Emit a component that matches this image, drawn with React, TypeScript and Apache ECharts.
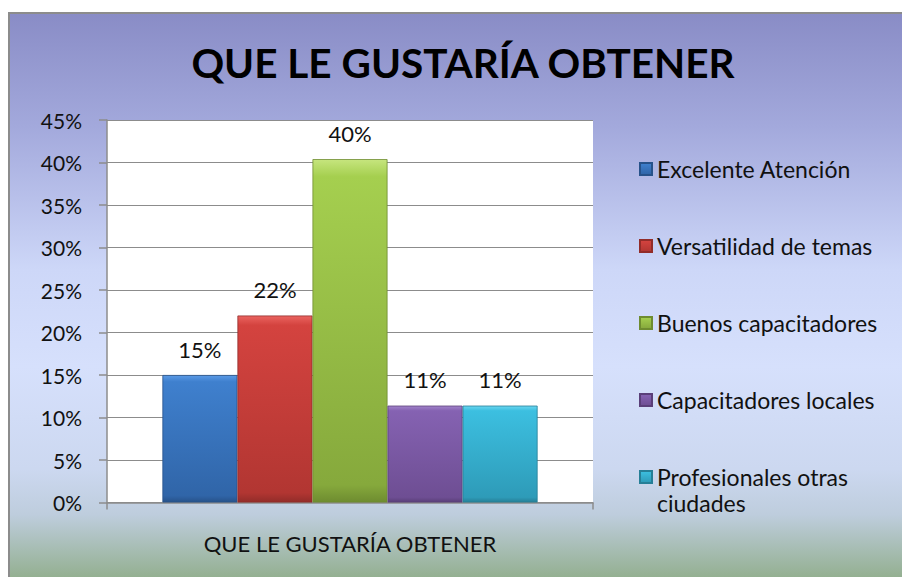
import React, { useEffect, useRef } from "react";
import * as echarts from "echarts";

const titleText = "QUE LE GUSTARÍA OBTENER";
const categories = ["QUE LE GUSTARÍA OBTENER"];
const seriesNames = [
  "Excelente Atención",
  "Versatilidad de temas",
  "Buenos capacitadores",
  "Capacitadores locales",
  "Profesionales otras ciudades",
];
const seriesValues = [0.15, 0.22, 0.404, 0.114, 0.114];
const yTicks = { min: 0, max: 0.45, interval: 0.05 };

const barColors = [
  ["#5A9AE6", "#3F80CE", "#3065A8", "#27528A"],
  ["#EA6460", "#D4433F", "#B23632", "#922C29"],
  ["#C6E57E", "#A5CF4F", "#86A93C", "#6E8C30"],
  ["#A183CA", "#8562B2", "#6E4E93", "#5A3F79"],
  ["#6AD6F0", "#3CBFE0", "#2E9BB8", "#267F97"],
];

const FONT = "Lato";

export default function App() {
  const ref = useRef<HTMLDivElement>(null);
  useEffect(() => {
    if (!ref.current) return;
    const chart = echarts.init(ref.current, undefined, { renderer: "svg" });
    const grad = (c: string[]) =>
      new echarts.graphic.LinearGradient(0, 0, 0, 1, [
        { offset: 0, color: c[0] },
        { offset: 0.05, color: c[1] },
        { offset: 0.95, color: c[2] },
        { offset: 1, color: c[3] },
      ]);
    const series = seriesNames.map((name, i) => ({
      name,
      type: "bar",
      data: [seriesValues[i]],
      barGap: "0%",
      barCategoryGap: "22.8%",
      itemStyle: { color: grad(barColors[i]), borderColor: barColors[i][3], borderWidth: 0.8 },
      label: {
        show: true,
        position: "top",
        distance: 15,
        fontFamily: FONT,
        fontSize: 22,
        color: "#111",
        formatter: (p: any) => Math.round(p.value * 100) + "%",
      },
    }));
    chart.setOption({
      animation: false,
      graphic: [
        {
          type: "rect",
          z: -10,
          silent: true,
          shape: { x: 9, y: 13, width: 900, height: 570 },
          style: {
            fill: new echarts.graphic.LinearGradient(0, 0, 0, 1, [
              { offset: 0, color: "#898CC6" },
              { offset: 0.2, color: "#A3A9DC" },
              { offset: 0.45, color: "#CDD7F8" },
              { offset: 0.62, color: "#D6E0FC" },
              { offset: 0.8, color: "#CCD8F0" },
              { offset: 0.88, color: "#BECDDD" },
              { offset: 1, color: "#90AD8A" },
            ]),
            stroke: "#8C8C8C",
            lineWidth: 2,
          },
        },
        {
          type: "text",
          x: 463,
          y: 62,
          style: {
            text: titleText,
            font: `bold 40.5px ${FONT}`,
            fill: "#000",
            align: "center",
            verticalAlign: "middle",
          },
        },
      ],
      grid: {
        left: 107,
        top: 120,
        right: 309,
        bottom: 74.5,
        show: true,
        backgroundColor: "#fff",
        borderWidth: 0,
      },
      legend: [
        {
          data: seriesNames.slice(0, 4),
          orient: "vertical",
          left: 639,
          top: 157,
          padding: 0,
          itemWidth: 12,
          itemHeight: 12,
          itemGap: 53,
          icon: "rect",
          textStyle: { fontFamily: FONT, fontSize: 23, color: "#111", lineHeight: 24 },
        },
        {
          data: seriesNames.slice(4),
          orient: "vertical",
          left: 639,
          top: 438,
          padding: 0,
          itemWidth: 12,
          itemHeight: 12,
          icon: "rect",
          formatter: () => "\u00a0\nProfesionales otras\nciudades",
          textStyle: {
            fontFamily: FONT,
            fontSize: 23,
            color: "#111",
            lineHeight: 26,
          },
        },
      ],
      xAxis: {
        type: "category",
        data: categories,
        axisLine: { lineStyle: { color: "#8C8C8C", width: 1.5 } },
        axisTick: { show: true, length: 7, lineStyle: { color: "#8C8C8C", width: 1.5 } },
        axisLabel: { fontFamily: FONT, fontSize: 22, color: "#111", margin: 30 },
      },
      yAxis: {
        type: "value",
        min: yTicks.min,
        max: yTicks.max,
        interval: yTicks.interval,
        axisLine: { show: true, lineStyle: { color: "#8C8C8C", width: 1.5 } },
        axisTick: { show: true, length: 8, lineStyle: { color: "#8C8C8C", width: 1.5 } },
        splitLine: { lineStyle: { color: "#8C8C8C", width: 1.2 } },
        axisLabel: {
          fontFamily: FONT,
          fontSize: 21,
          color: "#111",
          margin: 25,
          formatter: (v: number) => Math.round(v * 100) + "%",
        },
      },
      series,
    });
    return () => chart.dispose();
  }, []);
  return (
    <div
      ref={ref}
      style={{ position: "fixed", left: 0, top: 0, width: 902, height: 577, background: "#fff" }}
    />
  );
}
